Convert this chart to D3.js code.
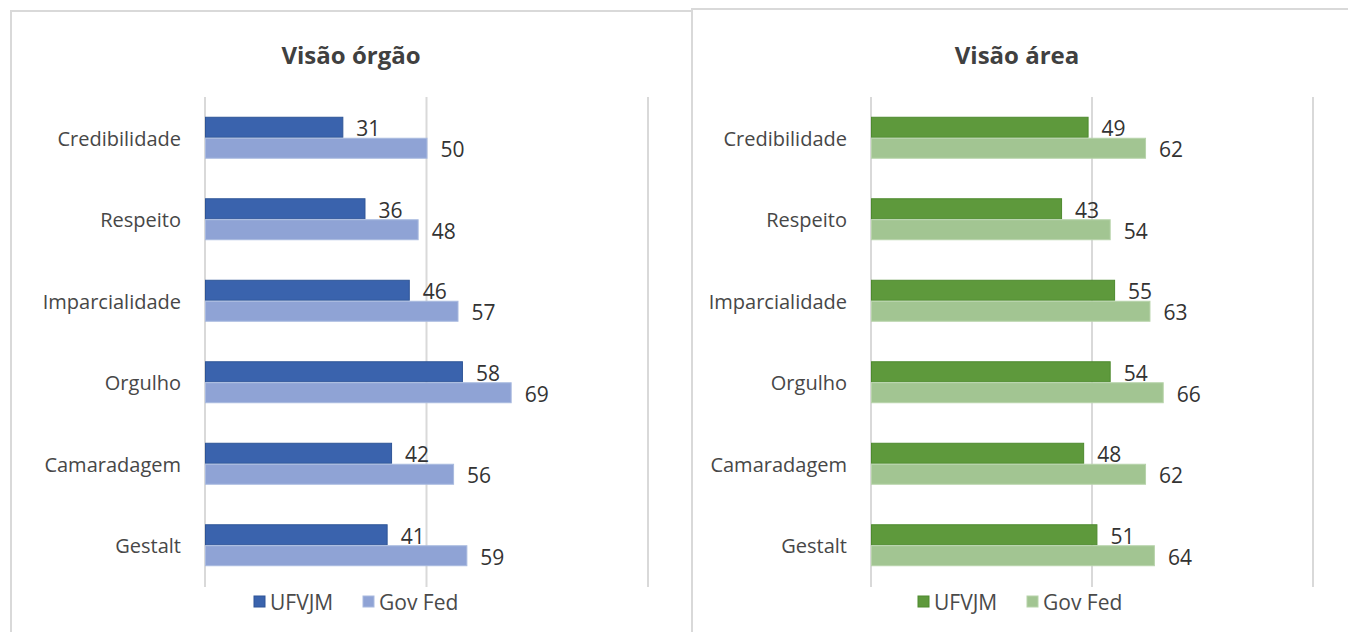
<!DOCTYPE html>
<html>
<head>
<meta charset="utf-8">
<script src="https://cdn.jsdelivr.net/npm/d3@7"></script>
<style>
  html, body { margin: 0; padding: 0; background: #fff; }
  svg { display: block; font-family: "Open Sans", "Segoe UI", sans-serif; }
</style>
</head>
<body>
<svg id="chart" width="1348" height="632"></svg>
<script>
// Dimensions of the survey, top to bottom
const categories = ["Credibilidade", "Respeito", "Imparcialidade", "Orgulho", "Camaradagem", "Gestalt"];
const seriesNames = ["UFVJM", "Gov Fed"];

// Scores — organisation view
const orgaoUFVJM  = [31, 36, 46, 58, 42, 41];
const orgaoGovFed = [50, 48, 57, 69, 56, 59];

// Scores — area view
const areaUFVJM  = [49, 43, 55, 54, 48, 51];
const areaGovFed = [62, 54, 63, 66, 62, 64];

const xTicks = [0, 50, 100];

const svg = d3.select("#chart");

// Panel frames
svg.append("rect").attr("x", 11).attr("y", 11).attr("width", 681).attr("height", 640)
  .attr("fill", "#fff").attr("stroke", "#d9d9d9").attr("stroke-width", 2);
svg.append("rect").attr("x", 692).attr("y", 9).attr("width", 700).attr("height", 640)
  .attr("fill", "#fff").attr("stroke", "#d9d9d9").attr("stroke-width", 2);

function drawPanel(opts) {
  const g = svg.append("g");
  const x = d3.scaleLinear().domain([0, 100]).range([opts.left, opts.right]);
  const y = d3.scaleBand().domain(categories).range([97, 586])
    .paddingInner(0.485).paddingOuter(0.2425);
  const ys = d3.scaleBand().domain(seriesNames).range([0, y.bandwidth()]);

  // Title
  g.append("text")
    .attr("x", opts.titleX).attr("y", 64)
    .attr("text-anchor", "middle")
    .attr("font-size", 24).attr("font-weight", 700)
    .attr("fill", "#404040")
    .text(opts.title);

  // Vertical gridlines
  g.append("g").selectAll("line").data(xTicks).join("line")
    .attr("x1", d => x(d)).attr("x2", d => x(d))
    .attr("y1", 97).attr("y2", 587)
    .attr("stroke", "#d9d9d9").attr("stroke-width", 2);

  // Category axis labels
  g.append("g").selectAll("text").data(categories).join("text")
    .attr("x", opts.left - 24)
    .attr("y", d => y(d) + y.bandwidth() / 2 + 1)
    .attr("dy", "0.36em")
    .attr("text-anchor", "end")
    .attr("font-size", 20)
    .attr("fill", "#474747")
    .text(d => d);

  const rows = [];
  categories.forEach((c, i) => {
    rows.push({ cat: c, s: seriesNames[0], v: opts.a[i] });
    rows.push({ cat: c, s: seriesNames[1], v: opts.b[i] });
  });

  const fill = { [seriesNames[0]]: opts.colors[0], [seriesNames[1]]: opts.colors[1] };
  const edge = { [seriesNames[0]]: opts.edges[0], [seriesNames[1]]: opts.edges[1] };

  g.append("g").selectAll("rect").data(rows).join("rect")
    .attr("x", x(0) + 0.5)
    .attr("y", d => y(d.cat) + ys(d.s) + 0.5)
    .attr("width", d => x(d.v) - x(0))
    .attr("height", ys.bandwidth() - 1)
    .attr("fill", d => fill[d.s])
    .attr("stroke", d => edge[d.s])
    .attr("stroke-width", 1);

  // Value labels
  g.append("g").selectAll("text").data(rows).join("text")
    .attr("x", d => x(d.v) + 14)
    .attr("y", d => y(d.cat) + ys(d.s) + ys.bandwidth() / 2 + 1.5)
    .attr("dy", "0.36em")
    .attr("font-size", 21)
    .attr("fill", "#333333")
    .text(d => d.v);

  // Legend
  const lg = g.append("g");
  opts.legend.forEach((l, i) => {
    lg.append("rect")
      .attr("x", l.x).attr("y", 596).attr("width", 11).attr("height", 11)
      .attr("fill", opts.colors[i]).attr("stroke", opts.edges[i]);
    lg.append("text")
      .attr("x", l.x + 16).attr("y", 602).attr("dy", "0.36em")
      .attr("font-size", 21).attr("fill", "#4a4a4a")
      .text(seriesNames[i]);
  });
}

drawPanel({
  title: "Visão órgão", titleX: 351, left: 205, right: 648,
  a: orgaoUFVJM, b: orgaoGovFed,
  colors: ["#3a63ad", "#8fa3d5"], edges: ["#2f5597", "#a9badf"],
  legend: [{ x: 254 }, { x: 363 }]
});

drawPanel({
  title: "Visão área", titleX: 1017, left: 871, right: 1313,
  a: areaUFVJM, b: areaGovFed,
  colors: ["#5e993c", "#a2c592"], edges: ["#4e8a2e", "#b7d3aa"],
  legend: [{ x: 918 }, { x: 1027 }]
});
</script>
</body>
</html>
